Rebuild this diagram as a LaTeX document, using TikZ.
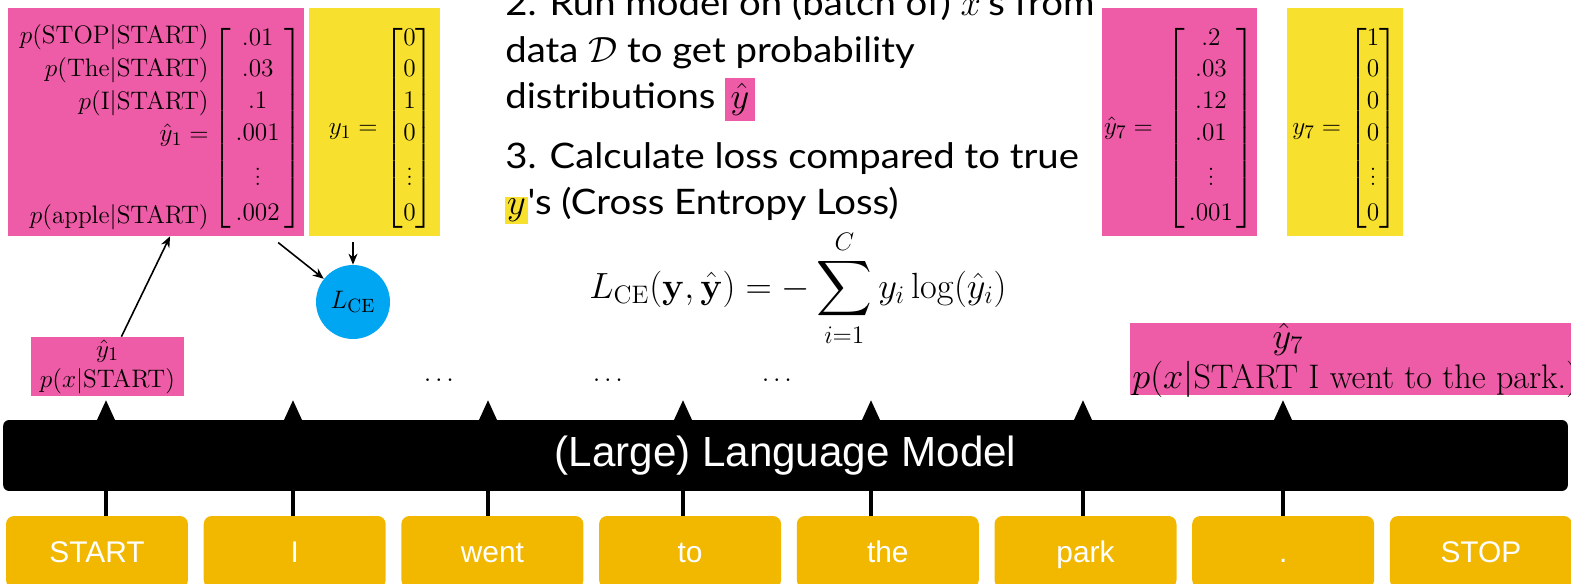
\documentclass[tikz,border=0pt]{standalone}
\usepackage{amsmath, amssymb}
\usepackage[no-math]{fontspec}
\newfontfamily\slidefont[FakeStretch=1.09]{Lato}
\newfontfamily\helvfont{Liberation Sans}
\usetikzlibrary{arrows.meta, positioning}

\definecolor{hatpink}{RGB}{238,91,166}
\definecolor{truey}{RGB}{248,224,46}
\definecolor{lossblue}{RGB}{0,166,242}
\definecolor{tokgold}{RGB}{242,184,0}

\delimiterfactor=850
\delimitershortfall=10pt
\renewcommand{\arraystretch}{0.8}
% lower a vector a little inside its box
\newcommand{\vecdown}[1]{\raisebox{-3.4pt}[\height][\depth]{#1}}

\tikzset{
  mathtext/.style={font=\fontsize{15.8}{18}\selectfont},
  pinkbox/.style={fill=hatpink, inner sep=1pt, mathtext},
  yellowbox/.style={fill=truey, inner sep=1pt, mathtext},
  tokbox/.style={fill=tokgold, rounded corners=0.16cm, minimum width=3.64cm,
    minimum height=1.44cm, text height=14pt, text depth=2pt, text=white,
    font=\helvfont\fontsize{17}{20}\selectfont},
  stepnote/.style={anchor=north west, align=left, inner sep=0pt,
    font=\slidefont\fontsize{20}{26.5}\selectfont},
  arr/.style={-{Stealth[length=0.22cm,width=0.18cm]}, line width=0.9pt},
  uparr/.style={-{Triangle[length=0.4cm,width=0.34cm]}, line width=2pt}
}

\begin{document}
\begin{tikzpicture}[x=0.02cm, y=-0.02cm]
    \useasboundingbox (0,0) rectangle (1571,584);
    \clip (0,0) rectangle (1571,584);

    % predicted and true vectors
    \node[pinkbox, minimum width=5.64cm, minimum height=4.56cm] (yhat1) at (156,122)
      {\setlength{\arraycolsep}{2.5pt}\hspace*{6pt}\vecdown{$\begin{array}{@{}r@{}}
        p(\mathrm{STOP}|\mathrm{START})\\[3.6pt]
        p(\mathrm{The}|\mathrm{START})\\[3.6pt]
        p(\mathrm{I}|\mathrm{START})\\[3.6pt]
        \hat{y}_1 =\\[6pt]
        \vphantom{\vdots}\\[6pt]
        p(\mathrm{apple}|\mathrm{START})
      \end{array}\left[\begin{array}{c}
        .01\\[3.6pt] .03\\[3.6pt] .1\\[3.6pt] .001\\[6pt] \vdots\\[6pt] .002
      \end{array}\right]$}};
    \node[yellowbox, minimum width=2.62cm, minimum height=4.56cm] (y1) at (374.5,122)
      {\hspace*{8pt}\vecdown{$y_1 = \begin{bmatrix} 0\\[3.6pt] 0\\[3.6pt] 1\\[3.6pt] 0\\[6pt] \vdots\\[6pt] 0 \end{bmatrix}$}};
    \node[pinkbox, minimum width=3.1cm, minimum height=4.56cm] (yhat7) at (1179.5,122)
      {\setlength{\arraycolsep}{2pt}\vecdown{$\hat{y}_7 = \;\left[\begin{array}{c}
        .2\\[3.6pt] .03\\[3.6pt] .12\\[3.6pt] .01\\[6pt] \vdots\\[6pt] .001
      \end{array}\right]$}};
    \node[yellowbox, minimum width=2.32cm, minimum height=4.56cm] (y7) at (1345,122)
      {\vecdown{$y_7 = \begin{bmatrix} 1\\[3.6pt] 0\\[3.6pt] 0\\[3.6pt] 0\\[6pt] \vdots\\[6pt] 0 \end{bmatrix}$}};

    % outputs of the model
    \node[pinkbox, align=center, minimum width=3.06cm, minimum height=1.18cm,
      font=\fontsize{15.5}{17}\selectfont] (lab1) at (107.5,366.5)
      {$\hat{y}_1$\\ $p(x|\mathrm{START})$};
    \node[pinkbox, anchor=north west, minimum width=9cm, minimum height=1.44cm] (lab7) at (1130,323) {};
    \node[font=\fontsize{19.4}{22}\selectfont] (hat7) at (1288,339) {$\hat{y}_7$};
    \node[anchor=base west, inner sep=0pt, font=\fontsize{19.4}{22}\selectfont] (cond7) at (1132,388)
      {$p(x|\text{START I went to the park.})$};
    \node[mathtext] (dots1) at (441,381) {$\cdots$};
    \node[mathtext] (dots2) at (610,381) {$\cdots$};
    \node[mathtext] (dots3) at (779,381) {$\cdots$};

    % loss
    \node[circle, fill=lossblue, minimum size=1.48cm, inner sep=0pt, mathtext] (lce) at (353,302)
      {$L_{\mathrm{CE}}$};
    \draw[arr] (lab1.65) -- (yhat1.-83);
    \draw[arr, shorten <=0.2cm] (yhat1.-45) -- (lce);
    \draw[arr, shorten <=0.12cm] (y1.south -| lce) -- (lce.north);

    % steps
    \node[stepnote] (step2) at (505,-12)
      {2. Run model on (batch of) $x$'s from\\
       data $\mathcal{D}$ to get probability\\
       distributions {\setlength{\fboxsep}{3pt}\colorbox{hatpink}{$\hat{y}$}}};
    \node[stepnote] (step3) at (505,142)
      {3. Calculate loss compared to true\\
       {\setlength{\fboxsep}{1pt}\colorbox{truey}{$y$}}'s (Cross Entropy Loss)};
    \node[font=\fontsize{22}{26}\selectfont] (celoss) at (798,288)
      {$\displaystyle L_{\mathrm{CE}}(\mathbf{y},\hat{\mathbf{y}}) = -\sum_{i=1}^{C} y_i \log(\hat{y}_i)$};

    % tokens and model
    \foreach \w [count=\i] in {START,I,went,to,the,park,.,STOP}
      \node[tokbox] (tok\i) at ({97+197.7*(\i-1)},552) {\w};
    \foreach \i/\x in {1/106,2/293,3/488,4/683,5/871,6/1083,7/1283}{
      \coordinate (tip\i) at (\x,400);
      \draw[uparr] (tip\i |- tok\i.north) -- (tip\i);
    }
    \node[fill=black, rounded corners=0.12cm, minimum width=31.3cm, minimum height=1.42cm,
      text=white, font=\helvfont\fontsize{24}{28}\selectfont] (llm) at (785.5,455.5)
      {(Large) Language Model};
\end{tikzpicture}
\end{document}
